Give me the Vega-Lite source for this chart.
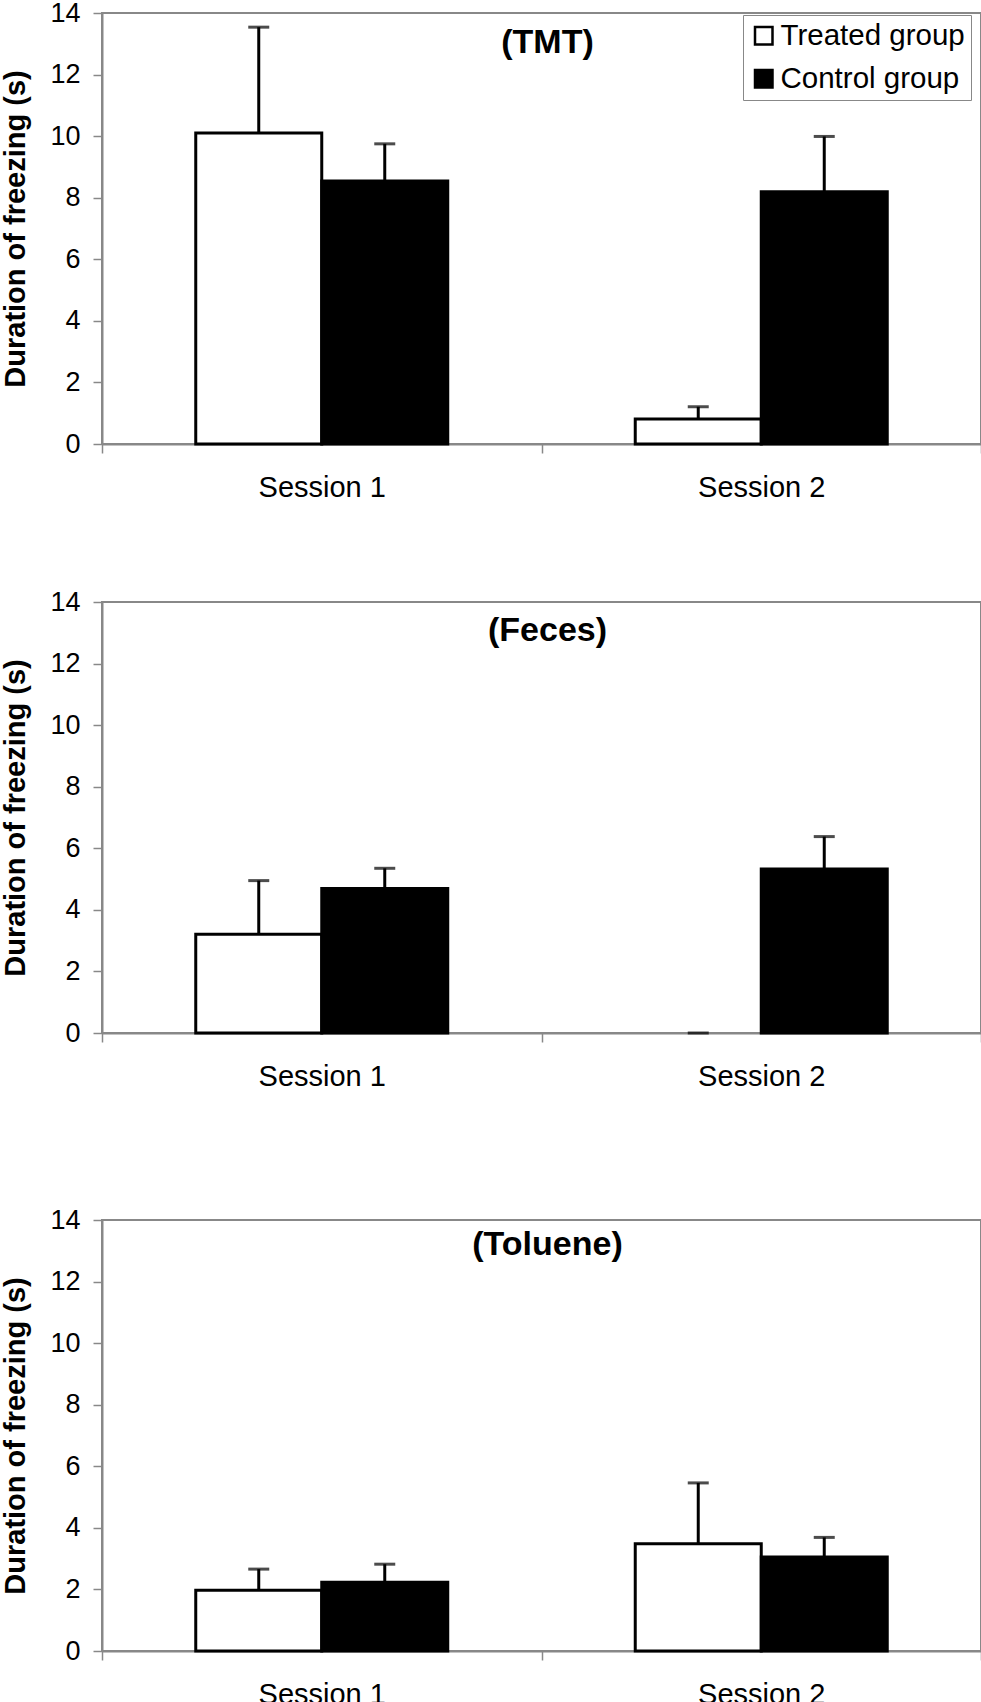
{
  "$schema": "https://vega.github.io/schema/vega-lite/v6.json",
  "background": "white",
  "padding": {"top": -2, "left": 0, "right": 0, "bottom": 0},
  "config": {
    "font": "Liberation Sans",
    "view": {"stroke": "#888888", "strokeWidth": 2},
    "axisY": {
      "grid": false,
      "domainColor": "#888888",
      "domainWidth": 2,
      "tickColor": "#888888",
      "tickWidth": 1.5,
      "tickSize": 9,
      "labelFontSize": 27,
      "labelColor": "black",
      "labelPadding": 13,
      "titleFontSize": 29,
      "titleFontWeight": "bold",
      "titleColor": "black",
      "titlePadding": 19
    },
    "axisX": {
      "domainColor": "#888888",
      "domainWidth": 2,
      "tickColor": "#888888",
      "tickWidth": 1.5,
      "tickSize": 9,
      "tickBand": "extent",
      "labelFontSize": 29,
      "labelColor": "black",
      "labelPadding": 20,
      "labelAngle": 0
    },
    "legend": {
      "orient": "none",
      "labelFontSize": 29.5,
      "labelColor": "black",
      "labelLimit": 400,
      "symbolType": "square",
      "symbolSize": 306,
      "symbolStrokeColor": "black",
      "symbolStrokeWidth": 2.5,
      "strokeColor": "#888888",
      "fillColor": "white",
      "padding": 6,
      "rowPadding": 12,
      "labelOffset": 2
    },
    "title": {"fontSize": 34, "fontWeight": "bold", "color": "black", "anchor": "middle", "frame": "group", "baseline": "alphabetic", "dx": 6}
  },
  "data": {
    "values": [
      {"panel": "TMT", "session": "Session 1", "group": "Treated group", "value": 10.1, "upper": 13.54},
      {"panel": "TMT", "session": "Session 1", "group": "Control group", "value": 8.54, "upper": 9.75},
      {"panel": "TMT", "session": "Session 2", "group": "Treated group", "value": 0.81, "upper": 1.21},
      {"panel": "TMT", "session": "Session 2", "group": "Control group", "value": 8.19, "upper": 9.99},
      {"panel": "Feces", "session": "Session 1", "group": "Treated group", "value": 3.21, "upper": 4.95},
      {"panel": "Feces", "session": "Session 1", "group": "Control group", "value": 4.69, "upper": 5.35},
      {"panel": "Feces", "session": "Session 2", "group": "Treated group", "value": 0, "upper": 0},
      {"panel": "Feces", "session": "Session 2", "group": "Control group", "value": 5.33, "upper": 6.38},
      {"panel": "Toluene", "session": "Session 1", "group": "Treated group", "value": 1.97, "upper": 2.66},
      {"panel": "Toluene", "session": "Session 1", "group": "Control group", "value": 2.23, "upper": 2.82},
      {"panel": "Toluene", "session": "Session 2", "group": "Treated group", "value": 3.48, "upper": 5.46},
      {"panel": "Toluene", "session": "Session 2", "group": "Control group", "value": 3.05, "upper": 3.69}
    ]
  },
  "spacing": 113,
  "vconcat": [
    {
      "spacing": 84,
      "vconcat": [
        {
          "width": 879,
          "height": 431,
          "title": {"text": "(TMT)", "offset": -61},
          "transform": [{"filter": "datum.panel == 'TMT'"}],
          "encoding": {
            "x": {"field": "session", "type": "nominal", "title": null, "scale": {"paddingInner": 0, "paddingOuter": 0}},
            "xOffset": {"field": "group", "type": "nominal", "scale": {"domain": ["Treated group", "Control group"], "paddingInner": 0, "paddingOuter": 0.744}}
          },
          "layer": [
            {
              "mark": {"type": "bar", "stroke": "black"},
              "encoding": {
                "y": {"field": "value", "type": "quantitative", "title": "Duration of freezing (s)", "scale": {"domain": [0, 14], "nice": false}, "axis": {"values": [0, 2, 4, 6, 8, 10, 12, 14]}},
                "fill": {"field": "group", "type": "nominal", "scale": {"domain": ["Treated group", "Control group"], "range": ["white", "black"]}, "legend": {"title": null, "legendX": 641, "legendY": 2}},
                "strokeWidth": {"condition": {"test": "datum.value > 0", "value": 3}, "value": 0}
              }
            },
            {
              "mark": {"type": "rule", "color": "black", "strokeWidth": 3},
              "encoding": {
                "y": {"field": "value", "type": "quantitative", "title": "Duration of freezing (s)", "axis": {"values": [0, 2, 4, 6, 8, 10, 12, 14]}},
                "y2": {"field": "upper"}
              }
            },
            {
              "mark": {"type": "tick", "color": "black", "size": 21, "thickness": 3},
              "encoding": {
                "y": {"field": "upper", "type": "quantitative", "title": "Duration of freezing (s)", "axis": {"values": [0, 2, 4, 6, 8, 10, 12, 14]}}
              }
            }
          ]
        },
        {
          "width": 879,
          "height": 431,
          "title": {"text": "(Feces)", "offset": -60},
          "transform": [{"filter": "datum.panel == 'Feces'"}],
          "encoding": {
            "x": {"field": "session", "type": "nominal", "title": null, "scale": {"paddingInner": 0, "paddingOuter": 0}},
            "xOffset": {"field": "group", "type": "nominal", "scale": {"domain": ["Treated group", "Control group"], "paddingInner": 0, "paddingOuter": 0.744}}
          },
          "layer": [
            {
              "mark": {"type": "bar", "stroke": "black"},
              "encoding": {
                "y": {"field": "value", "type": "quantitative", "title": "Duration of freezing (s)", "scale": {"domain": [0, 14], "nice": false}, "axis": {"values": [0, 2, 4, 6, 8, 10, 12, 14]}},
                "fill": {"field": "group", "type": "nominal", "scale": {"domain": ["Treated group", "Control group"], "range": ["white", "black"]}, "legend": {"title": null, "legendX": 639, "legendY": 6}},
                "strokeWidth": {"condition": {"test": "datum.value > 0", "value": 3}, "value": 0}
              }
            },
            {
              "mark": {"type": "rule", "color": "black", "strokeWidth": 3},
              "encoding": {
                "y": {"field": "value", "type": "quantitative", "title": "Duration of freezing (s)", "axis": {"values": [0, 2, 4, 6, 8, 10, 12, 14]}},
                "y2": {"field": "upper"}
              }
            },
            {
              "mark": {"type": "tick", "color": "black", "size": 21, "thickness": 3},
              "encoding": {
                "y": {"field": "upper", "type": "quantitative", "title": "Duration of freezing (s)", "axis": {"values": [0, 2, 4, 6, 8, 10, 12, 14]}}
              }
            }
          ]
        }
      ]
    },
    {
      "width": 879,
      "height": 431,
      "title": {"text": "(Toluene)", "offset": -56},
      "transform": [{"filter": "datum.panel == 'Toluene'"}],
      "encoding": {
        "x": {"field": "session", "type": "nominal", "title": null, "scale": {"paddingInner": 0, "paddingOuter": 0}},
        "xOffset": {"field": "group", "type": "nominal", "scale": {"domain": ["Treated group", "Control group"], "paddingInner": 0, "paddingOuter": 0.744}}
      },
      "layer": [
        {
          "mark": {"type": "bar", "stroke": "black"},
          "encoding": {
            "y": {"field": "value", "type": "quantitative", "title": "Duration of freezing (s)", "scale": {"domain": [0, 14], "nice": false}, "axis": {"values": [0, 2, 4, 6, 8, 10, 12, 14]}},
            "fill": {"field": "group", "type": "nominal", "scale": {"domain": ["Treated group", "Control group"], "range": ["white", "black"]}, "legend": {"title": null, "legendX": 639, "legendY": 9}},
            "strokeWidth": {"condition": {"test": "datum.value > 0", "value": 3}, "value": 0}
          }
        },
        {
          "mark": {"type": "rule", "color": "black", "strokeWidth": 3},
          "encoding": {
            "y": {"field": "value", "type": "quantitative", "title": "Duration of freezing (s)", "axis": {"values": [0, 2, 4, 6, 8, 10, 12, 14]}},
            "y2": {"field": "upper"}
          }
        },
        {
          "mark": {"type": "tick", "color": "black", "size": 21, "thickness": 3},
          "encoding": {
            "y": {"field": "upper", "type": "quantitative", "title": "Duration of freezing (s)", "axis": {"values": [0, 2, 4, 6, 8, 10, 12, 14]}}
          }
        }
      ]
    }
  ]
}
